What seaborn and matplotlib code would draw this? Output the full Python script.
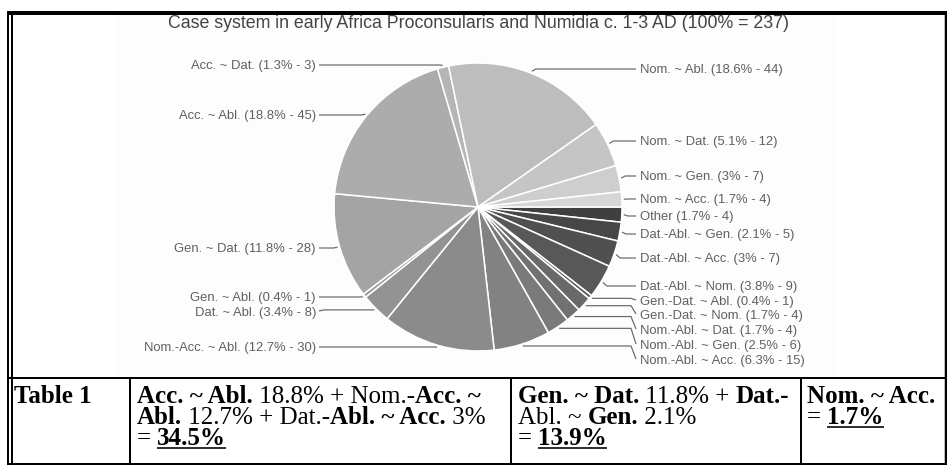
import numpy as np
import matplotlib
matplotlib.use("Agg")
import matplotlib.pyplot as plt
from matplotlib.patches import Rectangle
import seaborn as sns

# ---------------- data (clockwise from 3 o'clock) ----------------
categories = ["Other", "Dat.-Abl. ~ Gen.", "Dat.-Abl. ~ Acc.", "Dat.-Abl. ~ Nom.",
              "Gen.-Dat. ~ Abl.", "Gen.-Dat. ~ Nom.", "Nom.-Abl. ~ Dat.",
              "Nom.-Abl. ~ Gen.", "Nom.-Abl. ~ Acc.", "Nom.-Acc. ~ Abl.",
              "Dat. ~ Abl.", "Gen. ~ Abl.", "Gen. ~ Dat.", "Acc. ~ Abl.",
              "Acc. ~ Dat.", "Nom. ~ Abl.", "Nom. ~ Dat.", "Nom. ~ Gen.",
              "Nom. ~ Acc."]
counts = [4, 5, 7, 9, 1, 4, 4, 6, 15, 30, 8, 1, 28, 45, 3, 44, 12, 7, 4]
percents = [1.7, 2.1, 3, 3.8, 0.4, 1.7, 1.7, 2.5, 6.3, 12.7, 3.4, 0.4, 11.8,
            18.8, 1.3, 18.6, 5.1, 3, 1.7]
title = "Case system in early Africa Proconsularis and Numidia c. 1-3 AD (100% = 237)"

table_label = "Table 1"
col2_lines = [[("Acc. ~ Abl.", True, False), (" 18.8% + Nom.-", False, False), ("Acc. ~", True, False)],
              [("Abl.", True, False), (" 12.7% + Dat.-", False, False), ("Abl. ~ Acc.", True, False), (" 3%", False, False)],
              [("= ", False, False), ("34.5%", True, True)]]
col3_lines = [[("Gen. ~ Dat.", True, False), (" 11.8% + ", False, False), ("Dat.-", True, False)],
              [("Abl. ~ ", False, False), ("Gen.", True, False), (" 2.1%", False, False)],
              [("= ", False, False), ("13.9%", True, True)]]
col4_lines = [[("Nom. ~ Acc.", True, False)],
              [("= ", False, False), ("1.7%", True, True)]]

# ---------------- layout (pixels) ----------------
W, H = 947, 465
CX, CY, R = 478, 207, 144
label_y = [217, 235, 259, 287, 302, 316, 331, 346, 361, 348, 313, 298, 249,
           116, 66, 70, 142, 177, 200]
knee_near_label = [False, False, False, False, True, True, True, True, True,
                   False, True, False, False, False, False, False, False, False, False]

sns.set_theme(style="white")
plt.rcParams['font.family'] = ['Liberation Sans', 'DejaVu Sans']

palette = sns.blend_palette(["#3f3f3f", "#d6d6d6"], n_colors=len(counts))

fig = plt.figure(figsize=(W / 100, H / 100), dpi=100)
ax = fig.add_axes([0, 0, 1, 1])
ax.add_patch(Rectangle((118, 15), 720, 361, facecolor="#fdfdfd", edgecolor="none", zorder=0))
wedges, _ = ax.pie(counts, colors=palette, startangle=0, counterclock=True,
                   center=(CX, CY), radius=R,
                   wedgeprops=dict(edgecolor="white", linewidth=1.1))
ax.set_xlim(0, W)
ax.set_ylim(H, 0)
ax.set_aspect("auto")
ax.axis("off")

line_col = "#666666"
text_col = "#606060"
for i, w in enumerate(wedges):
    mid = np.deg2rad((w.theta1 + w.theta2) / 2)
    rx = CX + (R + 2) * np.cos(mid)
    ry = CY + (R + 2) * np.sin(mid)
    right = np.cos(mid) > 0
    s = 1 if right else -1
    ly = label_y[i]
    end_x = 636 if right else 319
    text_x = 640 if right else 316
    if knee_near_label[i]:
        xs = [rx, end_x - 5 * s, end_x]
        ys = [ry, ry, ly - 2]
    else:
        xs = [rx, rx + 4 * s, end_x]
        ys = [ry, ly - 1, ly - 1]
    ax.plot(xs, ys, color=line_col, lw=0.85, solid_capstyle="butt")
    lbl = f"{categories[i]} ({percents[i]:g}% - {counts[i]})"
    ax.text(text_x, ly, lbl, ha="left" if right else "right", va="center",
            fontsize=9.4, color=text_col)

ax.text(CX, 23, title, ha="center", va="center", fontsize=12.8, color="#444444")

# ---------------- frame and table ----------------
def hline(y, x0, x1, lw):
    ax.plot([x0, x1], [y, y], color="black", lw=lw * 0.72, solid_capstyle="butt")

def vline(x, y0, y1, lw):
    ax.plot([x, x], [y0, y1], color="black", lw=lw * 0.72, solid_capstyle="butt")

hline(13, 7, W, 4)
vline(8, 11, H, 2)
vline(11.5, 11, H, 2)
vline(945.5, 11, H, 2.5)
hline(378, 7, W, 2)
hline(463.5, 7, W, 2)
for xv in [129.5, 511, 800.5]:
    vline(xv, 378, H, 2)

fig.canvas.draw()
renderer = fig.canvas.get_renderer()
FS = 18

def seg_width(txt, bold):
    kw = dict(fontsize=FS, family="Liberation Serif",
              fontweight="bold" if bold else "normal")
    t1 = ax.text(0, 0, "|" + txt + "|", **kw)
    t2 = ax.text(0, 0, "||", **kw)
    wdt = t1.get_window_extent(renderer).width - t2.get_window_extent(renderer).width
    t1.remove(); t2.remove()
    return wdt

def draw_runs(x, y, runs):
    for txt, bold, under in runs:
        ax.text(x, y, txt, fontsize=FS, family="Liberation Serif",
                fontweight="bold" if bold else "normal", color="black",
                ha="left", va="baseline")
        wdt = seg_width(txt, bold)
        if under:
            hline(y + 3.5, x, x + wdt, 1.6)
        x += wdt

baselines = [402.5, 423.5, 444.5]
draw_runs(14, baselines[0], [(table_label, True, False)])
for col_x, lines in [(137, col2_lines), (518, col3_lines), (807, col4_lines)]:
    for bl, runs in zip(baselines, lines):
        draw_runs(col_x, bl, runs)

fig.savefig("out.png", dpi=100)
